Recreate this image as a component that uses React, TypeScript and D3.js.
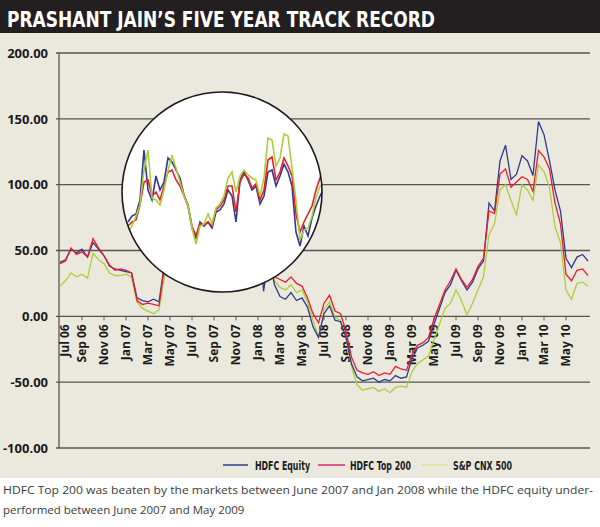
import React from 'react';
import * as d3 from 'd3';

// two-monthly tick labels on the x axis
const monthLabels = [
  'Jul 06', 'Sep 06', 'Nov 06', 'Jan 07', 'Mar 07', 'May 07', 'Jul 07', 'Sep 07',
  'Nov 07', 'Jan 08', 'Mar 08', 'May 08', 'Jul 08', 'Sep 08', 'Nov 08', 'Jan 09',
  'Mar 09', 'May 09', 'Jul 09', 'Sep 09', 'Nov 09', 'Jan 10', 'Mar 10', 'May 10',
];
const yTicks = [200, 150, 100, 50, 0, -50, -100];

// half-monthly readings, Jul 2006 -> Jul 2010 (% return)
const hdfcEquity = [
  41, 43, 51, 48, 51, 45, 56, 51, 46, 38, 36, 35, 34, 33, 14, 12, 11, 13, 11, 40,
  50, 60, 65, 60, 62, 70, 75, 80, 90, 95, 100, 110, 115, 112, 120, 110, 90, 19, 45, 24,
  15, 13, 18, 12, 14, 7, -8, -16, 2, 8, -3, -4, -16, -36, -46, -49, -48, -47, -50, -48,
  -49, -45, -47, -46, -32, -24, -22, -19, -6, 6, 18, 24, 35, 27, 20, 26, 36, 42, 86, 80,
  118, 130, 104, 108, 122, 118, 107, 148, 138, 118, 96, 80, 44, 37, 45, 47, 42,
];
const hdfcTop200 = [
  40, 42, 52, 47, 49, 45, 59, 52, 46, 39, 35, 36, 35, 33, 12, 9, 10, 9, 8, 38,
  50, 58, 62, 58, 60, 68, 72, 78, 88, 92, 98, 108, 112, 110, 118, 108, 88, 40, 45, 30,
  28, 26, 30, 25, 23, 14, 2, -5, 10, 16, 4, 2, -11, -31, -41, -43, -44, -42, -45, -43,
  -44, -38, -40, -41, -29, -22, -20, -16, -2, 9, 20, 27, 36, 28, 22, 28, 38, 44, 80, 78,
  108, 112, 98, 102, 106, 104, 95, 126, 121, 112, 86, 70, 32, 27, 35, 36, 31,
];
const cnx500 = [
  23, 27, 33, 30, 32, 29, 48, 43, 40, 33, 31, 31, 32, 30, 11, 6, 4, 2, 5, 30,
  45, 55, 62, 58, 62, 72, 78, 85, 95, 100, 108, 118, 122, 118, 128, 115, 95, 45, 50, 27,
  22, 20, 24, 18, 20, 11, -3, -16, 5, 11, -1, -3, -16, -38, -52, -56, -55, -54, -57, -55,
  -58, -54, -53, -54, -42, -36, -33, -30, -18, -6, 6, 10, 20, 12, 1, 10, 20, 30, 62, 70,
  96, 100, 88, 77, 100, 96, 88, 115, 110, 98, 68, 56, 20, 13, 25, 26, 23,
];

// magnified view shown in the circle (relative units)
const insetEquity = [
  38, 44, 46, 60, 110, 70, 60, 84, 70, 78, 102, 98, 90, 82, 65, 55, 32, 22, 38, 34,
  38, 32, 48, 50, 56, 70, 64, 38, 80, 88, 80, 70, 74, 56, 64, 88, 90, 74, 84, 96,
  88, 74, 28, 14, 34, 24, 42, 54, 64, 72,
];
const insetTop200 = [
  34, 38, 40, 55, 78, 80, 64, 68, 60, 74, 88, 90, 80, 74, 64, 54, 34, 24, 36, 35,
  38, 34, 50, 54, 60, 74, 74, 48, 78, 86, 82, 72, 76, 60, 70, 100, 103, 80, 88, 102,
  94, 84, 46, 28, 38, 46, 54, 70, 82, 78,
];
const insetCnx500 = [
  28, 34, 44, 55, 90, 110, 62, 60, 55, 70, 90, 104, 92, 78, 64, 55, 32, 16, 34, 36,
  46, 36, 52, 56, 64, 82, 88, 68, 84, 90, 85, 82, 80, 64, 82, 122, 120, 94, 102, 126,
  124, 92, 60, 20, 30, 32, 44, 62, 74, 76,
];

const BLUE = '#2e3a8f';
const RED = '#ec1c2a';
const GREEN = '#a9cf3b';
const CONDENSED = "'Liberation Sans Narrow', 'DejaVu Sans Condensed', sans-serif";

const W = 600;
const H = 527;

const App: React.FC = () => {
  const x = d3.scaleLinear().domain([0, 48]).range([60, 588]);
  const y = d3.scaleLinear().domain([-100, 200]).range([448, 53]);

  const line = d3.line<number>()
    .x((_, i) => x(i / 2))
    .y(d => y(d));

  const ix = d3.scaleLinear().domain([0, insetEquity.length - 1]).range([128, 324]);
  const iy = d3.scaleLinear().domain([0, 100]).range([260, 160]);
  const insetLine = d3.line<number>()
    .x((_, i) => ix(i))
    .y(d => iy(d));

  const cx = 222, cy = 192, r = 100;

  const legend = [
    { label: 'HDFC Equity', color: '#3b4890', x1: 223, x2: 248, tx: 255, w: 55 },
    { label: 'HDFC Top 200', color: '#d8377e', x1: 318, x2: 345, tx: 350, w: 61 },
    { label: 'S&P CNX 500', color: '#d6e59c', x1: 422, x2: 447, tx: 453, w: 59 },
  ];

  return (
    <svg width={W} height={H} style={{ position: 'absolute', left: 0, top: 0 }}>
      <defs>
        <clipPath id="lens">
          <circle cx={cx} cy={cy} r={r} />
        </clipPath>
      </defs>
      <rect x={0} y={0} width={W} height={H} fill="#fff" />
      <rect x={0} y={33} width={W} height={445} fill="#ebe9de" />
      <rect x={0} y={0} width={W} height={33} fill="#231f20" />
      <text x={7} y={27} fill="#fff" fontFamily={CONDENSED}
        fontWeight="bold" fontSize={22} textLength={428} lengthAdjust="spacingAndGlyphs">
        PRASHANT JAIN’S FIVE YEAR TRACK RECORD
      </text>

      {/* grid + y labels */}
      {yTicks.map(t => (
        <g key={t}>
          <line x1={56} x2={590} y1={y(t)} y2={y(t)} stroke="#555" strokeWidth={1.3} />
          <text x={48} y={y(t)} dy="0.36em" textAnchor="end" fontFamily="'Open Sans', sans-serif"
            fontWeight="bold" fontSize={13} fill="#1a1a1a">{t.toFixed(2)}</text>
        </g>
      ))}
      <line x1={59} x2={59} y1={y(200)} y2={y(-100)} stroke="#555" strokeWidth={1.3} />

      {/* x ticks + labels */}
      {monthLabels.map((m, k) => {
        const px = x(k * 2);
        return (
          <g key={m}>
            {k > 0 && <line x1={px} x2={px} y1={y(0)} y2={y(0) + 4} stroke="#555" strokeWidth={1} />}
            <text transform={`translate(${k === 0 ? px + 5 : px},${y(0) + 8}) rotate(-90)`} dy="0.36em"
              textAnchor="end" fontFamily="'Open Sans', sans-serif" fontWeight="bold" fontSize={12}
              fill="#1a1a1a">{m}</text>
          </g>
        );
      })}

      {/* series */}
      <path d={line(cnx500) ?? ''} fill="none" stroke={GREEN} strokeWidth={1.3} />
      <path d={line(hdfcEquity) ?? ''} fill="none" stroke={BLUE} strokeWidth={1.3} />
      <path d={line(hdfcTop200) ?? ''} fill="none" stroke={RED} strokeWidth={1.3} />

      {/* magnifier */}
      <circle cx={cx} cy={cy} r={r} fill="#fff" />
      <g clipPath="url(#lens)">
        <path d={insetLine(insetEquity) ?? ''} fill="none" stroke={BLUE} strokeWidth={1.6} />
        <path d={insetLine(insetTop200) ?? ''} fill="none" stroke={RED} strokeWidth={1.6} />
        <path d={insetLine(insetCnx500) ?? ''} fill="none" stroke={GREEN} strokeWidth={1.6} />
      </g>
      <circle cx={cx} cy={cy} r={r} fill="none" stroke="#1a1a1a" strokeWidth={1.6} />

      {/* legend */}
      {legend.map(l => (
        <g key={l.label}>
          <line x1={l.x1} x2={l.x2} y1={465} y2={465} stroke={l.color} strokeWidth={1.6} />
          <text x={l.tx} y={469.5} fontFamily={CONDENSED} fontWeight="bold" fontSize={12}
            fill="#1a1a1a" textLength={l.w} lengthAdjust="spacingAndGlyphs">{l.label}</text>
        </g>
      ))}

      {/* caption */}
      <text x={3} y={494} fontFamily="'Open Sans', sans-serif" fontSize={11.5} fill="#3a3a3a"
        textLength={590} lengthAdjust="spacingAndGlyphs">
        HDFC Top 200 was beaten by the markets between June 2007 and Jan 2008 while the HDFC equity under-
      </text>
      <text x={3} y={514} fontFamily="'Open Sans', sans-serif" fontSize={11.5} fill="#3a3a3a">
        performed between June 2007 and May 2009
      </text>
    </svg>
  );
};

export default App;
